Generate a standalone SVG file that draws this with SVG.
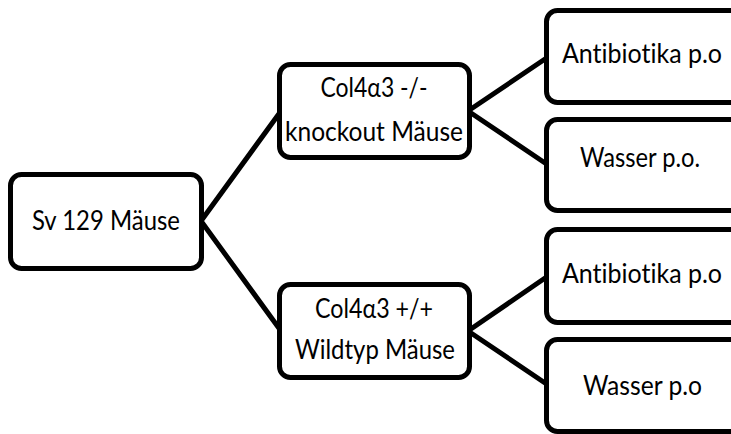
<svg xmlns="http://www.w3.org/2000/svg" width="731" height="434" viewBox="0 0 731 434">
<style>
.box{fill:#fff;stroke:#000;stroke-width:5}
.c{stroke:#000;stroke-width:5;fill:none;stroke-linecap:round}
text{font-family:Lato,"Liberation Sans",sans-serif;font-size:26px;fill:#000;text-anchor:middle;font-variant-ligatures:none}
</style>
<rect width="731" height="434" fill="#fff"/>
<g id="connectors">
<line class="c" x1="201" y1="221" x2="281" y2="111"/>
<line class="c" x1="201" y1="221" x2="281" y2="331"/>
<line class="c" x1="468" y1="111" x2="548" y2="57"/>
<line class="c" x1="468" y1="111" x2="548" y2="165"/>
<line class="c" x1="468" y1="331" x2="548" y2="276"/>
<line class="c" x1="468" y1="331" x2="548" y2="385"/>
</g>
<g id="sv129">
<rect class="box" x="10.5" y="174.5" width="191" height="94" rx="11"/>
<text x="106" y="230" textLength="148" lengthAdjust="spacingAndGlyphs">Sv 129 Mäuse</text>
</g>
<g id="knockout">
<rect class="box" x="279.5" y="64.5" width="190" height="93" rx="11"/>
<text x="374" y="97" textLength="107" lengthAdjust="spacingAndGlyphs">Col4α3 -/-</text>
<text x="374" y="141" textLength="178" lengthAdjust="spacingAndGlyphs">knockout Mäuse</text>
</g>
<g id="wildtyp">
<rect class="box" x="279.5" y="284.5" width="190" height="93" rx="11"/>
<text x="374" y="318" textLength="118" lengthAdjust="spacingAndGlyphs">Col4α3 +/+</text>
<text x="375" y="359" textLength="160" lengthAdjust="spacingAndGlyphs">Wildtyp Mäuse</text>
</g>
<g id="antibiotika1">
<rect class="box" x="546.5" y="10.5" width="200" height="92" rx="11"/>
<text x="642" y="63" textLength="160" lengthAdjust="spacingAndGlyphs">Antibiotika p.o</text>
</g>
<g id="wasser1">
<rect class="box" x="546.5" y="119.5" width="200" height="91" rx="11"/>
<text x="640" y="167" textLength="120" lengthAdjust="spacingAndGlyphs">Wasser p.o.</text>
</g>
<g id="antibiotika2">
<rect class="box" x="546.5" y="229.5" width="200" height="93" rx="11"/>
<text x="642" y="283" textLength="160" lengthAdjust="spacingAndGlyphs">Antibiotika p.o</text>
</g>
<g id="wasser2">
<rect class="box" x="546.5" y="339.5" width="200" height="92" rx="11"/>
<text x="642.5" y="395" textLength="119" lengthAdjust="spacingAndGlyphs">Wasser p.o</text>
</g>
</svg>
